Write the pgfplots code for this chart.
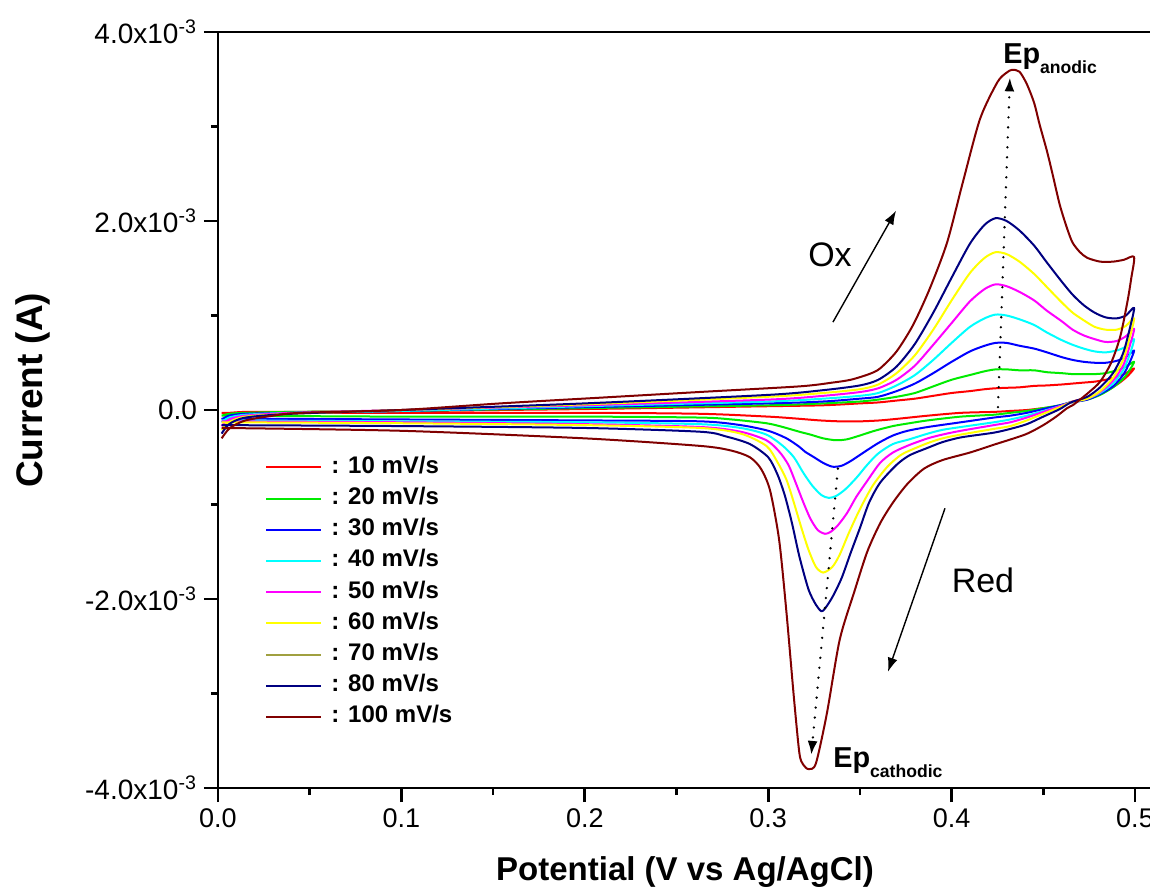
\documentclass[border=0pt]{standalone}
\usepackage{pgfplots}
\pgfplotsset{compat=1.18}
\usepackage{fontspec}
\setmainfont{Liberation Sans}
\usetikzlibrary{arrows.meta}

\definecolor{cvred}{RGB}{255,0,0}
\definecolor{cvgreen}{RGB}{0,235,0}
\definecolor{cvblue}{RGB}{0,0,255}
\definecolor{cvcyan}{RGB}{0,255,255}
\definecolor{cvmagenta}{RGB}{255,0,255}
\definecolor{cvyellow}{RGB}{255,255,0}
\definecolor{cvolive}{RGB}{160,160,64}
\definecolor{cvnavy}{RGB}{0,0,128}
\definecolor{cvmaroon}{RGB}{128,0,0}

\begin{document}
\begin{tikzpicture}
\begin{axis}[
  at={(0,0)}, anchor=south west,
  scale only axis, width=467.67pt, height=378pt,
  xmin=0, xmax=0.51, ymin=-4, ymax=4,
  axis line style={line width=1.3pt},
  xtick={0,0.1,0.2,0.3,0.4,0.5},
  xticklabels={0.0,0.1,0.2,0.3,0.4,0.5},
  minor xtick={0.05,0.15,0.25,0.35,0.45},
  ytick={-4,-2,0,2,4},
  yticklabels={-4.0x10\textsuperscript{-3},-2.0x10\textsuperscript{-3},0.0,2.0x10\textsuperscript{-3},4.0x10\textsuperscript{-3}},
  minor ytick={-3,-1,1,3},
  xtick pos=left, ytick pos=left,
  tick align=outside,
  major tick length=7pt, minor tick length=3.5pt,
  every tick/.style={black, line width=1.3pt},
  xticklabel style={font=\fontsize{13.5}{13.5}\selectfont},
  yticklabel style={font=\fontsize{14}{14}\selectfont},
  xlabel={Potential (V vs Ag/AgCl)},
  ylabel={Current (A)},
  every axis x label/.style={at={(axis description cs:0.4993,-0.111)}, anchor=center, font=\bfseries\fontsize{16.5}{16.5}\selectfont},
  every axis y label/.style={at={(axis description cs:-0.198,0.526)}, anchor=center, rotate=90, font=\bfseries\fontsize{18.5}{18.5}\selectfont},
  legend style={at={(axis cs:0.0256,-0.476)}, anchor=north west, draw=none, fill=none,
    inner sep=0pt, row sep=3.6pt,
    font=\bfseries\fontsize{12}{12}\selectfont,
    nodes={inner sep=0pt, text height=9pt, text depth=3pt}},
  legend cell align=left,
  legend image code/.code={\draw[#1] (0pt,0pt) -- (27.5pt,0pt); \path[draw=none] (32.5pt,0pt);},
  every axis plot/.append style={line width=1pt, line join=round, smooth, tension=0.45},
]

% 10 mV/s
\addplot[cvred] coordinates {
(0.002,-0.03) (0.006,-0.03) (0.015,-0.02) (0.04,-0.02) (0.1,-0.01) (0.2,0.01) (0.3,0.04) (0.33,0.05) (0.35,0.07) (0.36,0.08) (0.37,0.10) (0.38,0.12) (0.39,0.15) (0.40,0.18) (0.41,0.20) (0.418,0.22) (0.424,0.23) (0.43,0.235) (0.437,0.24) (0.445,0.255) (0.452,0.26) (0.46,0.27) (0.466,0.28) (0.472,0.29) (0.478,0.30) (0.484,0.32) (0.49,0.35) (0.495,0.39) (0.4995,0.44)
(0.496,0.36) (0.491,0.28) (0.485,0.21) (0.478,0.15) (0.470,0.11) (0.465,0.085) (0.459,0.04) (0.450,0.02) (0.441,0.00) (0.432,-0.01) (0.423,-0.02) (0.405,-0.03) (0.387,-0.06) (0.372,-0.09) (0.361,-0.11) (0.350,-0.12) (0.339,-0.12) (0.328,-0.11) (0.315,-0.09) (0.30,-0.07) (0.263,-0.04) (0.20,-0.03) (0.10,-0.03) (0.002,-0.03)
};
\addlegendentry{: 10 mV/s}

% 20 mV/s
\addplot[cvgreen] coordinates {
(0.002,-0.06) (0.006,-0.04) (0.015,-0.03) (0.04,-0.02) (0.1,-0.01) (0.2,0.02) (0.3,0.05) (0.33,0.07) (0.35,0.09) (0.36,0.11) (0.37,0.14) (0.38,0.18) (0.39,0.25) (0.40,0.32) (0.41,0.37) (0.418,0.41) (0.424,0.43) (0.43,0.43) (0.437,0.42) (0.445,0.42) (0.452,0.40) (0.46,0.39) (0.466,0.38) (0.472,0.38) (0.478,0.38) (0.484,0.39) (0.49,0.42) (0.495,0.46) (0.4995,0.51)
(0.497,0.42) (0.4935,0.33) (0.488,0.24) (0.481,0.16) (0.474,0.11) (0.465,0.08) (0.459,0.05) (0.450,0.02) (0.441,-0.01) (0.432,-0.03) (0.423,-0.05) (0.405,-0.07) (0.387,-0.11) (0.377,-0.14) (0.368,-0.17) (0.358,-0.22) (0.350,-0.27) (0.343,-0.31) (0.337,-0.32) (0.330,-0.30) (0.323,-0.26) (0.317,-0.23) (0.308,-0.18) (0.299,-0.14) (0.280,-0.10) (0.263,-0.08) (0.20,-0.07) (0.10,-0.07) (0.002,-0.06)
};
\addlegendentry{: 20 mV/s}

% 30 mV/s
\addplot[cvblue] coordinates {
(0.002,-0.10) (0.006,-0.06) (0.015,-0.04) (0.04,-0.03) (0.1,-0.01) (0.2,0.03) (0.3,0.07) (0.33,0.09) (0.35,0.12) (0.36,0.14) (0.37,0.20) (0.38,0.28) (0.39,0.39) (0.40,0.51) (0.41,0.62) (0.418,0.68) (0.424,0.71) (0.43,0.71) (0.437,0.68) (0.445,0.65) (0.452,0.61) (0.46,0.56) (0.466,0.53) (0.472,0.51) (0.478,0.50) (0.484,0.50) (0.49,0.52) (0.495,0.56) (0.4995,0.63)
(0.497,0.50) (0.4935,0.37) (0.488,0.25) (0.481,0.17) (0.474,0.11) (0.465,0.08) (0.459,0.05) (0.450,0.01) (0.441,-0.03) (0.432,-0.06) (0.423,-0.08) (0.405,-0.13) (0.387,-0.18) (0.376,-0.22) (0.368,-0.27) (0.360,-0.35) (0.352,-0.45) (0.345,-0.54) (0.340,-0.59) (0.335,-0.60) (0.330,-0.56) (0.325,-0.50) (0.320,-0.44) (0.317,-0.39) (0.310,-0.30) (0.300,-0.22) (0.285,-0.16) (0.263,-0.12) (0.20,-0.11) (0.10,-0.10) (0.002,-0.09)
};
\addlegendentry{: 30 mV/s}

% 40 mV/s
\addplot[cvcyan] coordinates {
(0.002,-0.13) (0.006,-0.08) (0.015,-0.05) (0.04,-0.03) (0.1,-0.01) (0.2,0.04) (0.3,0.09) (0.33,0.12) (0.35,0.15) (0.36,0.18) (0.37,0.26) (0.38,0.37) (0.39,0.53) (0.40,0.71) (0.41,0.88) (0.418,0.97) (0.424,1.01) (0.43,1.00) (0.437,0.96) (0.445,0.90) (0.452,0.82) (0.46,0.74) (0.466,0.69) (0.472,0.65) (0.478,0.62) (0.484,0.61) (0.49,0.63) (0.495,0.67) (0.4995,0.75)
(0.497,0.58) (0.4935,0.42) (0.488,0.28) (0.481,0.18) (0.474,0.12) (0.465,0.08) (0.459,0.04) (0.450,-0.01) (0.441,-0.06) (0.432,-0.10) (0.423,-0.13) (0.405,-0.18) (0.395,-0.21) (0.387,-0.25) (0.377,-0.31) (0.368,-0.36) (0.360,-0.46) (0.354,-0.58) (0.348,-0.72) (0.342,-0.84) (0.337,-0.91) (0.333,-0.93) (0.329,-0.90) (0.324,-0.80) (0.319,-0.66) (0.314,-0.50) (0.308,-0.38) (0.299,-0.26) (0.285,-0.19) (0.263,-0.15) (0.20,-0.13) (0.10,-0.12) (0.002,-0.11)
};
\addlegendentry{: 40 mV/s}

% 50 mV/s
\addplot[cvmagenta] coordinates {
(0.002,-0.17) (0.006,-0.10) (0.015,-0.06) (0.04,-0.03) (0.1,0.00) (0.2,0.05) (0.3,0.11) (0.33,0.15) (0.35,0.19) (0.36,0.23) (0.37,0.32) (0.38,0.47) (0.39,0.69) (0.40,0.92) (0.41,1.15) (0.418,1.28) (0.424,1.33) (0.43,1.31) (0.437,1.25) (0.445,1.16) (0.452,1.05) (0.46,0.94) (0.466,0.85) (0.472,0.79) (0.478,0.75) (0.484,0.72) (0.49,0.73) (0.495,0.78) (0.4995,0.86)
(0.497,0.67) (0.4935,0.47) (0.488,0.31) (0.481,0.19) (0.474,0.12) (0.465,0.08) (0.459,0.04) (0.450,-0.02) (0.441,-0.08) (0.432,-0.13) (0.423,-0.16) (0.405,-0.22) (0.395,-0.26) (0.387,-0.30) (0.377,-0.37) (0.368,-0.45) (0.361,-0.56) (0.354,-0.75) (0.348,-0.92) (0.343,-1.09) (0.338,-1.22) (0.334,-1.29) (0.331,-1.31) (0.327,-1.27) (0.323,-1.15) (0.319,-0.97) (0.315,-0.77) (0.311,-0.58) (0.306,-0.44) (0.299,-0.32) (0.285,-0.23) (0.263,-0.18) (0.20,-0.15) (0.10,-0.13) (0.002,-0.12)
};
\addlegendentry{: 50 mV/s}

% 60 mV/s
\addplot[cvyellow] coordinates {
(0.002,-0.21) (0.006,-0.13) (0.015,-0.07) (0.04,-0.04) (0.1,0.00) (0.2,0.06) (0.3,0.14) (0.33,0.18) (0.35,0.22) (0.36,0.27) (0.37,0.39) (0.38,0.58) (0.39,0.85) (0.40,1.16) (0.41,1.45) (0.418,1.61) (0.424,1.67) (0.43,1.65) (0.437,1.57) (0.445,1.44) (0.452,1.30) (0.46,1.14) (0.466,1.03) (0.472,0.95) (0.478,0.88) (0.484,0.85) (0.49,0.85) (0.495,0.89) (0.4995,0.97)
(0.497,0.76) (0.4935,0.53) (0.488,0.34) (0.481,0.20) (0.474,0.12) (0.465,0.08) (0.459,0.03) (0.450,-0.04) (0.441,-0.11) (0.432,-0.17) (0.423,-0.20) (0.405,-0.26) (0.395,-0.30) (0.387,-0.35) (0.377,-0.43) (0.372,-0.48) (0.365,-0.60) (0.357,-0.80) (0.350,-1.05) (0.344,-1.30) (0.339,-1.53) (0.335,-1.66) (0.330,-1.72) (0.326,-1.66) (0.322,-1.48) (0.318,-1.24) (0.314,-0.98) (0.310,-0.74) (0.305,-0.55) (0.299,-0.38) (0.285,-0.25) (0.263,-0.19) (0.20,-0.16) (0.10,-0.14) (0.002,-0.13)
};
\addlegendentry{: 60 mV/s}

% 70 mV/s (listed in the key only)
\addlegendimage{cvolive, line width=1pt}
\addlegendentry{: 70 mV/s}

% 80 mV/s
\addplot[cvnavy] coordinates {
(0.002,-0.25) (0.006,-0.15) (0.015,-0.08) (0.04,-0.04) (0.1,0.00) (0.2,0.07) (0.3,0.16) (0.33,0.21) (0.35,0.26) (0.36,0.32) (0.37,0.46) (0.38,0.70) (0.39,1.03) (0.40,1.40) (0.41,1.76) (0.418,1.96) (0.424,2.03) (0.43,2.00) (0.437,1.90) (0.445,1.74) (0.452,1.56) (0.46,1.36) (0.466,1.22) (0.472,1.11) (0.478,1.03) (0.484,0.98) (0.49,0.97) (0.495,1.00) (0.4995,1.08)
(0.497,0.85) (0.4935,0.60) (0.488,0.39) (0.481,0.24) (0.474,0.14) (0.465,0.08) (0.459,0.01) (0.450,-0.07) (0.441,-0.15) (0.432,-0.20) (0.423,-0.24) (0.405,-0.29) (0.395,-0.34) (0.387,-0.40) (0.377,-0.48) (0.370,-0.58) (0.361,-0.77) (0.355,-0.98) (0.350,-1.25) (0.345,-1.51) (0.340,-1.78) (0.335,-1.98) (0.331,-2.10) (0.329,-2.13) (0.326,-2.06) (0.322,-1.90) (0.317,-1.55) (0.313,-1.20) (0.309,-0.90) (0.305,-0.68) (0.300,-0.50) (0.290,-0.36) (0.277,-0.28) (0.263,-0.23) (0.20,-0.19) (0.10,-0.17) (0.002,-0.16)
};
\addlegendentry{: 80 mV/s}

% 100 mV/s
\addplot[cvmaroon] coordinates {
(0.002,-0.30) (0.0065,-0.19) (0.015,-0.11) (0.03,-0.06) (0.045,-0.03) (0.1,0.00) (0.154,0.07) (0.208,0.13) (0.262,0.19) (0.317,0.25) (0.335,0.29) (0.345,0.32) (0.355,0.38) (0.361,0.44) (0.370,0.62) (0.379,0.90) (0.388,1.28) (0.3975,1.77) (0.406,2.40) (0.4155,3.08) (0.425,3.47) (0.430,3.57) (0.433,3.60) (0.437,3.58) (0.441,3.45) (0.445,3.25) (0.448,3.02) (0.452,2.74) (0.455,2.50) (0.459,2.17) (0.463,1.92) (0.466,1.77) (0.470,1.67) (0.474,1.61) (0.481,1.57) (0.488,1.57) (0.494,1.59) (0.4995,1.62)
(0.498,1.40) (0.496,1.16) (0.492,0.78) (0.487,0.50) (0.481,0.30) (0.475,0.19) (0.470,0.11) (0.466,0.05) (0.463,0.02) (0.457,-0.07) (0.450,-0.16) (0.440,-0.26) (0.4226,-0.37) (0.410,-0.45) (0.395,-0.53) (0.385,-0.62) (0.376,-0.78) (0.368,-0.98) (0.361,-1.20) (0.354,-1.50) (0.347,-1.92) (0.339,-2.43) (0.332,-3.21) (0.326,-3.74) (0.322,-3.80) (0.319,-3.75) (0.317,-3.63) (0.314,-3.04) (0.310,-2.15) (0.306,-1.38) (0.301,-0.85) (0.296,-0.62) (0.290,-0.50) (0.280,-0.43) (0.263,-0.38) (0.2,-0.30) (0.1,-0.22) (0.002,-0.19)
};
\addlegendentry{: 100 mV/s}

% peak-shift guides
\draw[line width=1.3pt, line cap=round, dash pattern=on 0pt off 5pt,
      -{Latex[length=7pt,width=5pt]}] (axis cs:0.4253,0.03) -- (axis cs:0.4318,3.52);
\draw[line width=1.3pt, line cap=round, dash pattern=on 0pt off 5pt,
      -{Latex[length=7pt,width=5pt]}] (axis cs:0.338,-0.62) -- (axis cs:0.3235,-3.65);

% scan-direction arrows
\draw[line width=0.7pt, -{Latex[length=7pt,width=5pt]}] (axis cs:0.3353,0.93) -- (axis cs:0.3697,2.11);
\draw[line width=0.7pt, -{Latex[length=7pt,width=5pt]}] (axis cs:0.3964,-1.04) -- (axis cs:0.3653,-2.77);

\node[font=\fontsize{17}{17}\selectfont] at (axis cs:0.3337,1.64) {Ox};
\node[font=\fontsize{17}{17}\selectfont] at (axis cs:0.4171,-1.80) {Red};

\node[anchor=base west, inner sep=0pt, font=\bfseries\fontsize{14.4}{14.4}\selectfont]
  at (axis cs:0.428,3.67) {Ep\raisebox{-5pt}{\fontsize{8.8}{8.8}\selectfont anodic}};
\node[anchor=base west, inner sep=0pt, font=\bfseries\fontsize{14.4}{14.4}\selectfont]
  at (axis cs:0.3353,-3.78) {Ep\raisebox{-5pt}{\fontsize{8.8}{8.8}\selectfont cathodic}};
\end{axis}
\pgfresetboundingbox
\useasboundingbox (-109pt,-53pt) rectangle (466pt,394pt);
\end{tikzpicture}
\end{document}
